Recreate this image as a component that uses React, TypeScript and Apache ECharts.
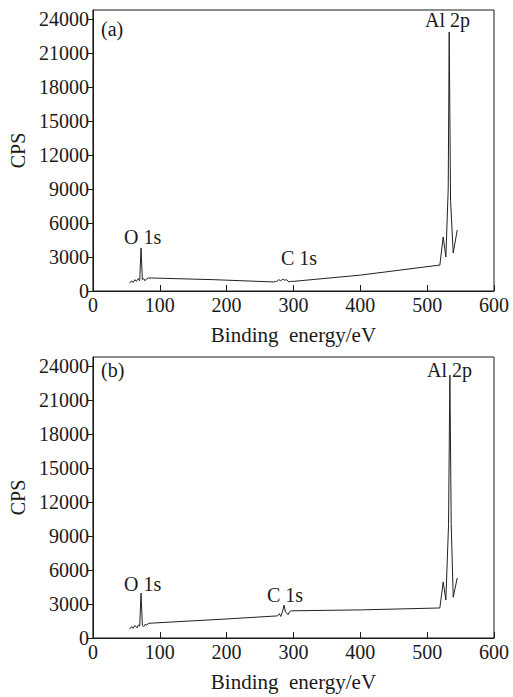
import React, { useEffect, useRef } from "react";
import * as echarts from "echarts";

// (a) spectrum: [binding energy (eV), CPS]
const spectrumA: [number, number][] = [
  [55, 700], [58, 900], [60, 750], [63, 1000], [65, 850], [68, 1100], [70, 900],
  [72, 3800], [74, 1000], [76, 1100], [78, 900], [80, 1050], [83, 1150], [87, 1150],
  [180, 1000], [270, 800], [275, 850], [278, 1000], [281, 900], [284, 1050], [287, 950],
  [290, 1000], [293, 800], [296, 850], [300, 850], [400, 1400], [519, 2290],
  [524, 4770], [528, 3000], [531.5, 9000], [533, 22860], [535, 8000], [539, 3350], [545, 5380],
];

// (b) spectrum
const spectrumB: [number, number][] = [
  [55, 800], [58, 1000], [60, 850], [63, 1100], [66, 900], [68, 1150], [70, 1050],
  [72, 3970], [74, 1100], [76, 1000], [78, 1200], [80, 1150], [84, 1300],
  [200, 1680], [276, 1950], [279, 2150], [281, 1900], [284, 2400], [286, 2900], [288, 2300],
  [290, 2200], [292, 2050], [294, 2300], [297, 2400], [400, 2480], [519, 2650],
  [524, 4950], [528, 3350], [532, 10000], [534, 23200], [536, 10000], [539, 3600], [545, 5300],
];

const yTicks = [0, 3000, 6000, 9000, 12000, 15000, 18000, 21000, 24000];
const xMin = 0;
const xMax = 600;
const xInterval = 100;
const yMax = 24800;

const panelLabels = ["(a)", "(b)"];
const peakLabels = ["O 1s", "C 1s", "Al 2p"];

const FONT = "'Liberation Serif', serif";
const INK = "#1a1a1a";
const FS = 20;

export default function App() {
  const ref = useRef<HTMLDivElement>(null);
  useEffect(() => {
    if (!ref.current) return;
    const chart = echarts.init(ref.current, undefined, { renderer: "svg" });
    const grids = [
      { left: 92, top: 10, width: 402, height: 281 },
      { left: 92, top: 357, width: 402, height: 281 },
    ];
    const xAxes = grids.map((_, i) => ({
      type: "value",
      gridIndex: i,
      min: xMin,
      max: xMax,
      interval: xInterval,
      name: "Binding  energy/eV",
      nameLocation: "middle",
      nameGap: 33,
      nameTextStyle: { fontFamily: FONT, fontSize: 21, color: INK },
      axisLine: { show: true, lineStyle: { color: INK, width: 1 } },
      axisTick: { show: true, inside: true, length: 6, lineStyle: { color: INK } },
      axisLabel: { fontFamily: FONT, fontSize: FS, color: INK, margin: 4, formatter: (v: number) => String(v) },
      splitLine: { show: false },
    }));
    const yAxes = grids.map((_, i) => ({
      type: "value",
      gridIndex: i,
      min: 0,
      max: yMax,
      name: "CPS",
      nameLocation: "middle",
      nameRotate: 90,
      nameGap: 63,
      nameTextStyle: { fontFamily: FONT, fontSize: FS, color: INK },
      axisLine: { show: true, lineStyle: { color: INK, width: 1 } },
      axisTick: { show: true, inside: false, length: 5, lineStyle: { color: INK }, customValues: yTicks },
      axisLabel: {
        fontFamily: FONT, fontSize: FS, color: INK, margin: 4, customValues: yTicks,
        formatter: (v: number) => String(v),
      },
      splitLine: { show: false },
    }));
    const mkSeries = (data: [number, number][], i: number) => ({
      type: "line",
      xAxisIndex: i,
      yAxisIndex: i,
      data,
      symbol: "none",
      lineStyle: { color: "#222", width: 1 },
    });
    const txt = (text: string, left: number, top: number) => ({
      type: "text",
      left,
      top,
      style: { text, fontFamily: FONT, fontSize: FS, fill: INK },
    });
    chart.setOption({
      animation: false,
      backgroundColor: "#fff",
      textStyle: { fontFamily: FONT },
      grid: grids.map((g) => ({ ...g, show: true, borderColor: INK, borderWidth: 1, backgroundColor: "transparent" })),
      xAxis: xAxes,
      yAxis: yAxes,
      series: [mkSeries(spectrumA, 0), mkSeries(spectrumB, 1)],
      graphic: [
        txt(panelLabels[0], 101, 19),
        txt(panelLabels[1], 101, 360),
        txt(peakLabels[0], 124, 227),
        txt(peakLabels[1], 281, 248),
        txt(peakLabels[2], 425, 10),
        txt(peakLabels[0], 124, 574),
        txt(peakLabels[1], 267, 585),
        txt(peakLabels[2], 427, 360),
      ],
    });
    return () => chart.dispose();
  }, []);
  return (
    <div
      ref={ref}
      style={{ position: "fixed", left: 0, top: 0, width: 513, height: 697 }}
    />
  );
}
